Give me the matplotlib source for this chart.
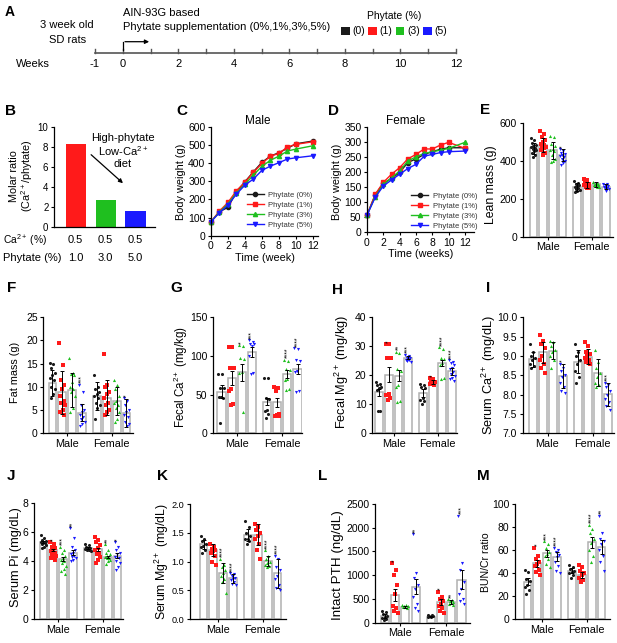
import numpy as np
import matplotlib
matplotlib.use('Agg')
import matplotlib.pyplot as plt
from matplotlib.patches import Patch
from matplotlib.transforms import blended_transform_factory

plt.rcParams['font.family'] = ['Liberation Sans', 'DejaVu Sans']
plt.rcParams['mathtext.fontset'] = 'custom'
plt.rcParams['mathtext.rm'] = 'Liberation Sans'
plt.rcParams['mathtext.it'] = 'Liberation Sans:italic'
plt.rcParams['mathtext.bf'] = 'Liberation Sans:bold'
plt.rcParams['axes.linewidth'] = 0.9

# ---------------- data ----------------
phytate_levels = ['0', '1', '3', '5']
timeline_weeks = list(range(-1, 13))
timeline_labels = ['-1', '0', '', '2', '', '4', '', '6', '', '8', '', '10', '', '12']

molar_ratio = [8.3, 2.75, 1.65]
ca_pct = ['0.5', '0.5', '0.5']
phy_pct = ['1.0', '3.0', '5.0']

weeks = [0, 1, 2, 3, 4, 5, 6, 7, 8, 9, 10, 12]
bw_male_0 = [77, 132, 156, 242, 297, 352, 404, 438, 457, 481, 506, 521]
bw_male_1 = [77, 136, 183, 248, 294, 349, 398, 438, 453, 488, 503, 517]
bw_male_3 = [77, 130, 176, 235, 284, 334, 382, 415, 438, 466, 477, 495]
bw_male_5 = [77, 127, 169, 229, 279, 312, 360, 383, 402, 422, 429, 440]
bw_fem_0 = [56, 123, 162, 178, 198, 231, 243, 258, 267, 275, 280, 280]
bw_fem_1 = [56, 125, 165, 192, 214, 243, 258, 276, 276, 289, 298, 278]
bw_fem_3 = [56, 117, 158, 180, 203, 236, 250, 261, 267, 272, 278, 298]
bw_fem_5 = [56, 115, 153, 173, 192, 211, 225, 252, 258, 264, 267, 269]

groups = ['Male', 'Female']

# E lean mass
lean_mean = [465, 482, 456, 430, 263, 272, 275, 263]
lean_err = [30, 35, 45, 30, 20, 18, 12, 12]
lean_pts = [[520, 510, 495, 485, 475, 470, 465, 460, 455, 450, 440, 430, 420],
            [555, 540, 525, 510, 500, 490, 485, 480, 470, 465, 455, 440, 430],
            [530, 525, 490, 475, 460, 455, 450, 430, 410, 400, 395],
            [460, 450, 440, 435, 430, 425, 420, 410, 400, 390, 380],
            [295, 285, 280, 270, 265, 260, 255, 250, 245, 240, 235],
            [305, 300, 290, 280, 275, 270, 265, 260, 258, 255],
            [290, 285, 280, 278, 275, 272, 270, 265, 262, 260],
            [280, 275, 272, 268, 265, 260, 258, 255, 250, 240]]
lean_stars = ['', '', '', '*', '', '', '', '']

# F fat mass
fat_mean = [10.9, 8.8, 9.3, 4.45, 8.0, 7.7, 7.0, 4.45]
fat_err = [2.8, 4.6, 3.7, 1.8, 3.0, 3.7, 3.0, 3.0]
fat_pts = [[15.2, 15.0, 14.0, 13.0, 12.5, 12.0, 11.5, 10.0, 9.5, 8.5, 7.5],
           [19.5, 14.8, 11.5, 10.5, 9.5, 8.0, 7.0, 6.5, 6.0, 5.0, 4.5, 4.0],
           [16.3, 13.0, 12.8, 12.5, 11.0, 10.0, 9.5, 9.0, 8.0, 5.5, 4.5],
           [10.5, 9.0, 6.0, 5.0, 4.5, 4.0, 3.5, 3.0, 2.5, 2.0, 1.5],
           [12.5, 10.0, 9.5, 9.0, 8.5, 8.0, 7.5, 6.5, 6.0, 5.5, 3.0],
           [17.0, 10.5, 10.0, 9.0, 8.5, 7.5, 6.5, 6.0, 5.0, 4.5, 4.0],
           [11.5, 10.5, 9.5, 8.0, 7.0, 6.5, 6.0, 5.5, 4.5, 3.0, 2.5],
           [7.5, 7.0, 6.0, 5.0, 4.5, 4.0, 3.5, 2.5, 2.0, 1.5]]
fat_stars = ['', '', '', '***', '', '', '', '*']

# G fecal Ca
fca_mean = [54, 72, 79, 105, 41, 40, 77, 83]
fca_err = [8, 9, 11, 6, 5, 6, 5, 6]
fca_pts = [[77, 77, 58, 58, 47, 47, 45, 13],
           [112, 111, 85, 84, 57, 55, 38, 37],
           [114, 113, 97, 96, 79, 78, 28],
           [120, 118, 116, 115, 113, 100, 78, 77],
           [72, 71, 45, 44, 30, 29, 25, 20],
           [60, 58, 55, 25, 24, 23, 22],
           [95, 94, 83, 82, 70, 69, 57, 56],
           [110, 109, 95, 94, 80, 79, 55, 54]]
fca_stars = ['', '', '*', '***', '', '', '****', '****']

# H fecal Mg
fmg_mean = [14.1, 20.1, 19.8, 25.9, 13.8, 17.6, 24.1, 21.3]
fmg_err = [1.2, 2.5, 2.0, 0.5, 1.3, 0.8, 1.0, 1.2]
fmg_pts = [[17.5, 17, 16.5, 16, 15.5, 15, 7.5, 7.5],
           [30.5, 30.5, 26, 26, 13.5, 13, 12, 11.5],
           [28, 27.5, 22, 21.5, 16.5, 16, 11, 10.8],
           [27, 26.5, 26, 25.8, 25.5, 25.3, 25, 24.8, 24.5],
           [17, 16.5, 16, 15.5, 12, 11.5, 11, 10],
           [19, 18.5, 18, 17.5, 17, 16.8, 16.5],
           [29.5, 29, 26, 25.5, 24, 23.5, 19, 18.5],
           [25, 24.5, 24, 23.5, 22.5, 22, 21, 20.5, 19.5, 19, 18.5, 18]]
fmg_stars = ['', '*', '**', '***', '', '*', '****', '****']

# I serum Ca
sca_mean = [8.91, 9.09, 9.13, 8.48, 8.85, 8.98, 8.57, 8.01]
sca_err = [0.2, 0.28, 0.22, 0.3, 0.3, 0.2, 0.35, 0.3]
sca_pts = [[9.3, 9.1, 9.0, 8.95, 8.9, 8.8, 8.75, 8.7],
           [9.55, 9.4, 9.3, 9.2, 9.0, 8.9, 8.8, 8.7, 8.55],
           [9.4, 9.35, 9.25, 9.15, 9.1, 9.0, 8.9, 8.7],
           [8.8, 8.7, 8.6, 8.5, 8.45, 8.3, 8.2, 8.1, 8.05],
           [9.3, 9.1, 9.0, 8.9, 8.8, 8.6, 8.45, 8.3],
           [9.35, 9.25, 9.1, 9.05, 9.0, 8.95, 8.9, 8.85, 8.8],
           [9.15, 8.85, 8.7, 8.55, 8.45, 8.3, 8.25, 8.2],
           [8.3, 8.25, 8.2, 8.1, 8.0, 7.9, 7.8, 7.7, 7.6]]
sca_stars = ['', '', '', '*', '', '', '', '***']

# J serum Pi
spi_mean = [5.31, 4.78, 4.16, 4.6, 4.94, 4.82, 4.3, 4.4]
spi_err = [0.08, 0.1, 0.15, 0.15, 0.06, 0.13, 0.1, 0.15]
spi_pts = [[5.8, 5.6, 5.5, 5.4, 5.35, 5.3, 5.25, 5.2, 5.1, 5.0, 4.9],
           [5.3, 5.2, 5.0, 4.9, 4.8, 4.7, 4.6, 4.5, 4.4, 4.3, 4.2, 4.1],
           [5.0, 4.8, 4.6, 4.4, 4.2, 4.1, 4.0, 3.9, 3.7, 3.5, 3.3, 3.1],
           [6.3, 5.6, 5.0, 4.8, 4.6, 4.5, 4.4, 4.3, 4.2, 4.1, 4.0],
           [5.2, 5.1, 5.0, 4.95, 4.9, 4.85, 4.8, 4.75, 4.7],
           [5.7, 5.5, 5.3, 5.1, 4.9, 4.8, 4.6, 4.5, 4.3, 4.1, 3.9],
           [5.2, 4.8, 4.6, 4.5, 4.4, 4.3, 4.25, 4.2, 4.1, 4.0, 3.8],
           [5.3, 5.0, 4.8, 4.6, 4.5, 4.3, 4.2, 4.0, 3.9, 3.6, 3.4]]
spi_stars = ['', '*', '***', '**', '', '', '**', '*']

# K serum Mg
smg_mean = [1.30, 1.20, 0.80, 0.71, 1.46, 1.47, 1.01, 0.80]
smg_err = [0.08, 0.1, 0.17, 0.08, 0.1, 0.18, 0.08, 0.25]
smg_pts = [[1.45, 1.4, 1.35, 1.3, 1.28, 1.25, 1.2, 1.15],
           [1.3, 1.25, 1.22, 1.2, 1.18, 1.15, 1.1, 1.0, 0.95],
           [1.05, 0.95, 0.9, 0.85, 0.8, 0.75, 0.7, 0.65, 0.45],
           [0.8, 0.78, 0.75, 0.72, 0.7, 0.68, 0.65, 0.62, 0.6],
           [1.7, 1.6, 1.5, 1.45, 1.4, 1.4, 1.35, 1.3],
           [1.65, 1.6, 1.55, 1.5, 1.45, 1.4, 1.3, 1.2, 1.05],
           [1.2, 1.1, 1.05, 1.0, 0.98, 0.95, 0.92, 0.9],
           [1.1, 1.05, 0.9, 0.85, 0.75, 0.7, 0.6, 0.55, 0.5]]
smg_stars = ['', '', '****', '****', '', '', '****', '****']

# L intact PTH
pth_mean = [140, 583, 340, 760, 130, 440, 440, 900]
pth_err = [40, 130, 20, 160, 15, 60, 40, 200]
pth_pts = [[250, 220, 180, 150, 120, 100, 80, 60],
           [1250, 1100, 1000, 800, 600, 350, 300, 250, 200],
           [380, 370, 360, 350, 340, 330, 320],
           [1870, 1050, 950, 800, 700, 550, 400, 300, 250],
           [170, 160, 150, 140, 130, 120],
           [650, 550, 500, 450, 400, 350, 300, 250, 200],
           [500, 480, 450, 430, 420, 400, 380],
           [2250, 1250, 1100, 850, 700, 600, 500, 450, 400]]
pth_stars = ['', '*', '', '**', '', '*', '**', '***']

# M BUN/Cr
bun_mean = [32.7, 48.6, 57.2, 54.3, 42.2, 38.4, 66.8, 63]
bun_err = [3, 3, 3, 4, 2, 2.5, 5, 6]
bun_pts = [[43, 41, 35, 33, 30, 28, 25, 22],
           [62, 55, 52, 50, 48, 46, 43, 41, 38],
           [68, 65, 62, 58, 57, 55, 52, 48, 45],
           [62, 60, 58, 56, 54, 50, 46, 42, 40],
           [47, 45, 44, 42, 41, 40, 38, 36],
           [47, 45, 42, 40, 38, 36, 34, 32],
           [82, 78, 75, 70, 66, 60, 55, 50],
           [90, 75, 70, 68, 65, 60, 55, 50, 42]]
bun_stars = ['', '*', '***', '****', '', '', '****', '**']

# ---------------- style ----------------
COLORS = ['#1a1a1a', '#ff1a1a', '#1fbf1f', '#1a1aff']
MARKERS = ['o', 's', '^', 'v']
W, H = 617, 643
fig = plt.figure(figsize=(W / 100, H / 100), dpi=100)


def pax(l, t, r, b):
    return fig.add_axes([l / W, 1 - b / H, (r - l) / W, (b - t) / H])


def ftext(x, y, s, **kw):
    return fig.text(x / W, 1 - y / H, s, **kw)


def style(ax, fs=7.5):
    for sp in ['top', 'right']:
        ax.spines[sp].set_visible(False)
    ax.tick_params(direction='out', length=2.5, width=0.8, labelsize=fs, pad=1.5)


# ---------------- panel A ----------------
axA = pax(0, 0, W, 85)
px_per_wk = (456 - 95) / 13.0
axA.set_xlim(-1 - 95 / px_per_wk, 12 + (W - 456) / px_per_wk)
axA.set_ylim(85, 0)
axA.axis('off')
axA.plot([timeline_weeks[0], timeline_weeks[-1]], [53, 53], color='#555555', lw=1.2)
for w, lab in zip(timeline_weeks, timeline_labels):
    axA.plot([w, w], [49, 53], color='#555555', lw=1.0)
    if lab:
        axA.text(w, 64, lab, ha='center', va='center', fontsize=8)
axA.text(-3.23, 64, 'Weeks', ha='center', va='center', fontsize=8)
axA.text(-2.0, 25, '3 week old', ha='center', va='center', fontsize=8)
axA.text(-2.0, 40, 'SD rats', ha='center', va='center', fontsize=8)
axA.text(0, 13, 'AIN-93G based', ha='left', va='center', fontsize=8)
axA.text(0, 27, 'Phytate supplementation (0%,1%,3%,5%)', ha='left', va='center', fontsize=8)
axA.plot([0, 0], [50, 41.7], color='black', lw=0.9)
axA.annotate('', xy=(1.05, 41.7), xytext=(-0.02, 41.7),
             arrowprops=dict(arrowstyle='-|>', lw=0.9, color='black', mutation_scale=6))
handles = [Patch(facecolor=c, edgecolor='none', label=f'({p})') for c, p in zip(COLORS, phytate_levels)]
legA = axA.legend(handles=handles, ncol=4, title='Phytate (%)', frameon=False, fontsize=7.5,
                  title_fontsize=7.5, handlelength=0.85, handleheight=0.85, columnspacing=0.3,
                  handletextpad=0.25, borderpad=0, loc='upper center',
                  bbox_to_anchor=(394 / W, 1 - 6 / H), bbox_transform=fig.transFigure)
ftext(5, 12, 'A', fontsize=10, fontweight='bold', va='center')

# ---------------- panel B ----------------
axB = pax(54, 126.7, 155, 227.3)
style(axB, 7)
xb = np.arange(len(molar_ratio))
axB.bar(xb, molar_ratio, width=0.67, color=COLORS[1:])
axB.set_xlim(-0.72, 2.65)
axB.set_ylim(0, 10)
axB.set_yticks([0, 2, 4, 6, 8, 10])
axB.set_xticks([])
tr = blended_transform_factory(axB.transData, fig.transFigure)
for i in range(3):
    axB.text(xb[i], 1 - 240 / H, ca_pct[i], transform=tr, ha='center', va='center', fontsize=8)
    axB.text(xb[i], 1 - 258 / H, phy_pct[i], transform=tr, ha='center', va='center', fontsize=8)
ftext(3, 240, r'Ca$^{2+}$ (%)', fontsize=7.4, va='center')
ftext(3, 258, 'Phytate (%)', fontsize=8, va='center')
axB.text(1.58, 7.6, 'High-phytate\nLow-Ca$^{2+}$\ndiet', ha='center', va='center', fontsize=8,
         linespacing=1.1)
axB.annotate('', xy=(1.65, 4.2), xytext=(0.45, 7.4),
             arrowprops=dict(arrowstyle='-|>', lw=0.9, color='black', mutation_scale=6))
ftext(22, 176, 'Molar ratio\n(Ca$^{2+}$/phytate)', rotation=90, ha='center', va='center',
      fontsize=7.8, linespacing=1.1)
ftext(5, 111, 'B', fontsize=11, fontweight='bold', va='center')


# ---------------- panels C, D ----------------
def line_panel(box, series, xlim, ylim, yticks, title, title_x, xlabel, ylab_x, letter, letter_x,
               leg_anchor):
    ax = pax(*box)
    style(ax)
    for i, ys in enumerate(series):
        ax.plot(weeks, ys, color=COLORS[i], marker=MARKERS[i], markersize=3, lw=1.0,
                clip_on=False, label=f'Phytate ({phytate_levels[i]}%)')
    ax.set_xlim(*xlim)
    ax.set_ylim(*ylim)
    ax.set_yticks(yticks)
    ax.set_xticks([0, 2, 4, 6, 8, 10, 12])
    ax.set_xlabel(xlabel, fontsize=7.8, labelpad=1)
    leg = ax.legend(loc='upper left', bbox_to_anchor=leg_anchor, frameon=False, fontsize=5.5,
                    handlelength=2.2, labelspacing=0.35, handletextpad=0.6, borderpad=0)
    for t in leg.get_texts():
        t.set_color('#333333')
    ftext(title_x, 121, title, fontsize=8.5, ha='center', va='center')
    ftext(ylab_x, 182, 'Body weight (g)', rotation=90, ha='center', va='center', fontsize=7.8)
    ftext(letter_x, 111, letter, fontsize=11, fontweight='bold', va='center')
    return ax


line_panel((211, 126.7, 318, 235.7), [bw_male_0, bw_male_1, bw_male_3, bw_male_5], (0, 12.6),
           (0, 600), list(range(0, 601, 100)), 'Male', 258, 'Time (week)', 181, 'C', 176, (0.3, 0.44))
line_panel((367, 126.7, 474, 232), [bw_fem_0, bw_fem_1, bw_fem_3, bw_fem_5], (0, 13.1),
           (0, 350), list(range(0, 351, 50)), 'Female', 406, 'Time (weeks)', 337, 'D', 328, (0.38, 0.41))

# ---------------- bar panels ----------------
POS = np.array([0, 1, 2, 3, 4.5, 5.5, 6.5, 7.5])


def bar_panel(box, xlim, ylim, yticks, ytfmt, means, errs, pts, stars, ylabel, ylab_xy, ylab_fs,
              letter, letter_xy, tick_fs=7.5):
    ax = pax(*box)
    style(ax, tick_fs)
    for i in range(8):
        ax.bar(POS[i], means[i], width=0.8, color='white', edgecolor='#b0b0b0', linewidth=1.1, zorder=1)
        v = np.array(pts[i], dtype=float)
        n = len(v)
        offs = ((np.arange(n) * 0.618) % 1 - 0.5) * 0.6
        ax.scatter(POS[i] + offs, v, s=5, marker=MARKERS[i % 4], color=COLORS[i % 4], zorder=3,
                   linewidths=0, clip_on=False)
        ax.errorbar(POS[i], means[i], yerr=errs[i], color='black', lw=0.7, capsize=1.5,
                    capthick=0.7, zorder=4)
        if stars[i]:
            top = max(v.max(), means[i] + errs[i])
            ax.annotate(stars[i], (POS[i], top), xytext=(0, 1), textcoords='offset points',
                        rotation=90, ha='center', va='bottom', fontsize=5, annotation_clip=False)
    ax.set_xlim(*xlim)
    ax.set_ylim(*ylim)
    ax.set_yticks(yticks)
    ax.set_yticklabels([ytfmt.format(t) for t in yticks])
    ax.set_xticks([1.5, 6.0])
    ax.set_xticklabels(groups, fontsize=7.8)
    ftext(ylab_xy[0], ylab_xy[1], ylabel, rotation=90, ha='center', va='center', fontsize=ylab_fs)
    ftext(letter_xy[0], letter_xy[1], letter, fontsize=11, fontweight='bold', va='center')
    return ax


bar_panel((522.7, 122.7, 613, 236.7), (-1.12, 8.22), (0, 600), [0, 200, 400, 600], '{:.0f}',
          lean_mean, lean_err, lean_pts, lean_stars, 'Lean mass (g)', (491, 185), 8.8, 'E', (480, 110))
bar_panel((43.3, 317.3, 133, 433.3), (-0.93, 8.16), (0, 25), [0, 5, 10, 15, 20, 25], '{:.0f}',
          fat_mean, fat_err, fat_pts, fat_stars, 'Fat mass (g)', (15, 372), 7.8, 'F', (7, 288))
bar_panel((212.7, 317.3, 302, 433.3), (-0.87, 7.94), (0, 150), [0, 50, 100, 150], '{:.0f}',
          fca_mean, fca_err, fca_pts, fca_stars, r'Fecal Ca$^{2+}$ (mg/kg)', (181, 377), 8.3,
          'G', (170, 288))
bar_panel((372, 316.7, 457, 433.3), (-0.72, 8.0), (0, 40), [0, 10, 20, 30, 40], '{:.0f}',
          fmg_mean, fmg_err, fmg_pts, fmg_stars, r'Fecal Mg$^{2+}$ (mg/kg)', (342, 372), 9.2,
          'H', (332, 290))
bar_panel((522.7, 317.3, 614, 433.3), (-0.98, 8.15), (7, 10), [7.0, 7.5, 8.0, 8.5, 9.0, 9.5, 10.0],
          '{:.1f}', sca_mean, sca_err, sca_pts, sca_stars, r'Serum Ca$^{2+}$ (mg/dL)', (489, 375), 9.2,
          'I', (486, 288))
bar_panel((34.3, 503.3, 123, 619.3), (-0.93, 8.06), (0, 8), [0, 2, 4, 6, 8], '{:.0f}',
          spi_mean, spi_err, spi_pts, spi_stars, 'Serum Pi (mg/dL)', (16, 557), 9.2, 'J', (7, 476))
bar_panel((190, 504, 286, 619.3), (-1.37, 8.36), (0, 2.0), [0, 0.5, 1.0, 1.5, 2.0], '{:.1f}',
          smg_mean, smg_err, smg_pts, smg_stars, r'Serum Mg$^{2+}$ (mg/dL)', (162, 562), 8.8,
          'K', (157, 476), tick_fs=6.6)
bar_panel((375, 504, 470, 622.7), (-0.98, 8.33), (0, 2500), [0, 500, 1000, 1500, 2000, 2500], '{:.0f}',
          pth_mean, pth_err, pth_pts, pth_stars, 'Intact PTH (ng/dL)', (338, 565), 9.6, 'L', (318, 476))
bar_panel((515, 504, 610, 619.3), (-1.27, 8.36), (0, 100), [0, 20, 40, 60, 80, 100], '{:.0f}',
          bun_mean, bun_err, bun_pts, bun_stars, 'BUN/Cr ratio', (486, 562), 7.6, 'M', (477, 476))

fig.savefig('out.png', dpi=100, facecolor='white')
